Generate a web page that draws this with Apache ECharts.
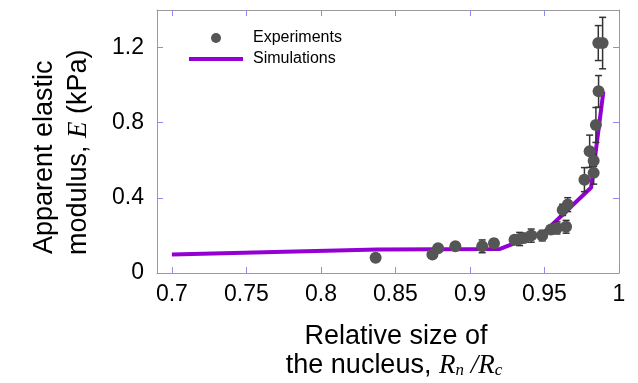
<!DOCTYPE html>
<html>
<head>
<meta charset="utf-8">
<script src="https://cdn.jsdelivr.net/npm/echarts@6/dist/echarts.min.js"></script>
<style>
  html, body { margin: 0; padding: 0; background: #fff; }
  #chart { width: 638px; height: 383px; }
</style>
</head>
<body>
<div id="chart"></div>
<script>
// axis ticks
const xTicks = [0.7, 0.75, 0.8, 0.85, 0.9, 0.95, 1];
const yTicks = [0, 0.4, 0.8, 1.2];

// experiments: relative size, modulus (kPa), error bar half-length
const expX = [0.8367, 0.8748, 0.8786, 0.8902, 0.9082, 0.9161, 0.9299, 0.9333, 0.9363, 0.9411,
              0.9485, 0.9544, 0.9584, 0.9645, 0.9622, 0.9656, 0.9768, 0.9803, 0.9830, 0.9830,
              0.9845, 0.9863, 0.9861, 0.9890];
const expY = [0.081, 0.098, 0.132, 0.143, 0.142, 0.158, 0.177, 0.181, 0.186, 0.199,
              0.199, 0.232, 0.240, 0.246, 0.336, 0.364, 0.497, 0.648, 0.598, 0.533,
              0.788, 0.967, 1.224, 1.224];
const expErr = [0.012, 0.008, 0.008, 0.01, 0.034, 0.022, 0.01, 0.035, 0.015, 0.035,
                0.028, 0.01, 0.032, 0.034, 0.03, 0.037, 0.064, 0.086, 0.03, 0.06,
                0.093, 0.084, 0.093, 0.137];

// simulations
const simX = [0.7, 0.838, 0.9202, 0.9505, 0.9813, 0.9895];
const simY = [0.098, 0.125, 0.128, 0.222, 0.455, 0.965];

const FONT = "'Liberation Sans', Arial, sans-serif";
const frameColor = '#9a9a9a';
const tickColor = '#8c8cf0';
const simColor = '#9400d3';

const chart = echarts.init(document.getElementById('chart'));

const axisCommon = {
    axisLine: { show: true, onZero: false, lineStyle: { color: frameColor, width: 1 } },
    splitLine: { show: false },
};

const option = {
    backgroundColor: '#fff',
    animation: false,
    grid: { left: 157, top: 10, right: 19, bottom: 110 },
    legend: {
        orient: 'vertical',
        left: 187,
        top: 30,
        itemWidth: 54,
        itemHeight: 10,
        itemGap: 5,
        padding: 0,
        textStyle: { fontFamily: FONT, fontSize: 16, color: '#000', lineHeight: 16, padding: [0, 0, 0, 5] },
        data: [
            { name: 'Experiments', icon: 'circle' },
            { name: 'Simulations', itemStyle: { opacity: 0 }, lineStyle: { width: 4, color: simColor } }
        ]
    },
    xAxis: [
        {
            ...axisCommon,
            type: 'value',
            min: 0.69,
            max: 1,
            position: 'bottom',
            axisTick: { show: true, inside: true, length: 6, customValues: xTicks, lineStyle: { color: tickColor } },
            axisLabel: {
                customValues: xTicks,
                margin: 10,
                fontFamily: FONT, fontSize: 23, color: '#000',
                formatter: v => String(+v.toFixed(2))
            }
        },
        {
            ...axisCommon,
            type: 'value',
            min: 0.69,
            max: 1,
            position: 'top',
            axisTick: { show: true, inside: true, length: 6, customValues: xTicks, lineStyle: { color: tickColor } },
            axisLabel: { show: false }
        }
    ],
    yAxis: [
        {
            ...axisCommon,
            type: 'value',
            min: 0,
            max: 1.4,
            position: 'left',
            axisTick: { show: true, inside: true, length: 6, customValues: yTicks, lineStyle: { color: tickColor } },
            axisLabel: {
                customValues: yTicks,
                margin: 13,
                fontFamily: FONT, fontSize: 23, color: '#000',
                formatter: v => String(+v.toFixed(1))
            }
        },
        {
            ...axisCommon,
            type: 'value',
            min: 0,
            max: 1.4,
            position: 'right',
            axisTick: { show: true, inside: true, length: 6, customValues: yTicks, lineStyle: { color: tickColor } },
            axisLabel: { show: false }
        }
    ],
    series: [
        {
            name: 'Simulations',
            type: 'line',
            data: simX.map((x, i) => [x, simY[i]]),
            symbol: 'none',
            showSymbol: false,
            lineStyle: { color: simColor, width: 4 },
            itemStyle: { color: simColor },
            z: 2
        },
        {
            name: 'errorbars',
            type: 'custom',
            data: expX.map((x, i) => [x, expY[i], expErr[i]]),
            renderItem: (params, api) => {
                const x = api.value(0), y = api.value(1), e = api.value(2);
                const top = api.coord([x, y + e]);
                const bot = api.coord([x, y - e]);
                const hw = 3.5;
                const st = { stroke: '#333', lineWidth: 1.5 };
                return {
                    type: 'group',
                    children: [
                        { type: 'line', shape: { x1: top[0], y1: top[1], x2: bot[0], y2: bot[1] }, style: st },
                        { type: 'line', shape: { x1: top[0] - hw, y1: top[1], x2: top[0] + hw, y2: top[1] }, style: st },
                        { type: 'line', shape: { x1: bot[0] - hw, y1: bot[1], x2: bot[0] + hw, y2: bot[1] }, style: st }
                    ]
                };
            },
            z: 3,
            silent: true
        },
        {
            name: 'Experiments',
            type: 'scatter',
            data: expX.map((x, i) => [x, expY[i]]),
            symbol: 'circle',
            symbolSize: 12,
            itemStyle: { color: '#555555', opacity: 1 },
            z: 4
        }
    ],
    graphic: [
        {
            type: 'text',
            x: 45, y: 254,
            rotation: Math.PI / 2,
            style: {
                text: 'Apparent elastic',
                font: '27px ' + FONT,
                fill: '#000',
                align: 'left',
                verticalAlign: 'middle'
            }
        },
        {
            type: 'text',
            x: 79, y: 255,
            rotation: Math.PI / 2,
            style: {
                text: 'modulus, {i|E} (kPa)',
                font: '27px ' + FONT,
                fill: '#000',
                align: 'left',
                verticalAlign: 'middle',
                rich: {
                    i: { fontFamily: "'Liberation Serif', serif", fontStyle: 'italic', fontSize: 27 }
                }
            }
        },
        {
            type: 'text',
            x: 396, y: 337,
            style: {
                text: 'Relative size of',
                font: '27px ' + FONT,
                fill: '#000',
                align: 'center',
                verticalAlign: 'middle'
            }
        },
        {
            type: 'text',
            x: 394, y: 366,
            style: {
                text: 'the nucleus, {i|R}{s|n}{i| /R}{s|c}',
                font: '27px ' + FONT,
                fill: '#000',
                align: 'center',
                verticalAlign: 'middle',
                rich: {
                    i: { fontFamily: "'Liberation Serif', serif", fontStyle: 'italic', fontSize: 27 },
                    s: { fontFamily: "'Liberation Serif', serif", fontStyle: 'italic', fontSize: 17, verticalAlign: 'bottom', padding: [8, 0, 0, 0] }
                }
            }
        }
    ]
};

chart.setOption(option);
</script>
</body>
</html>
